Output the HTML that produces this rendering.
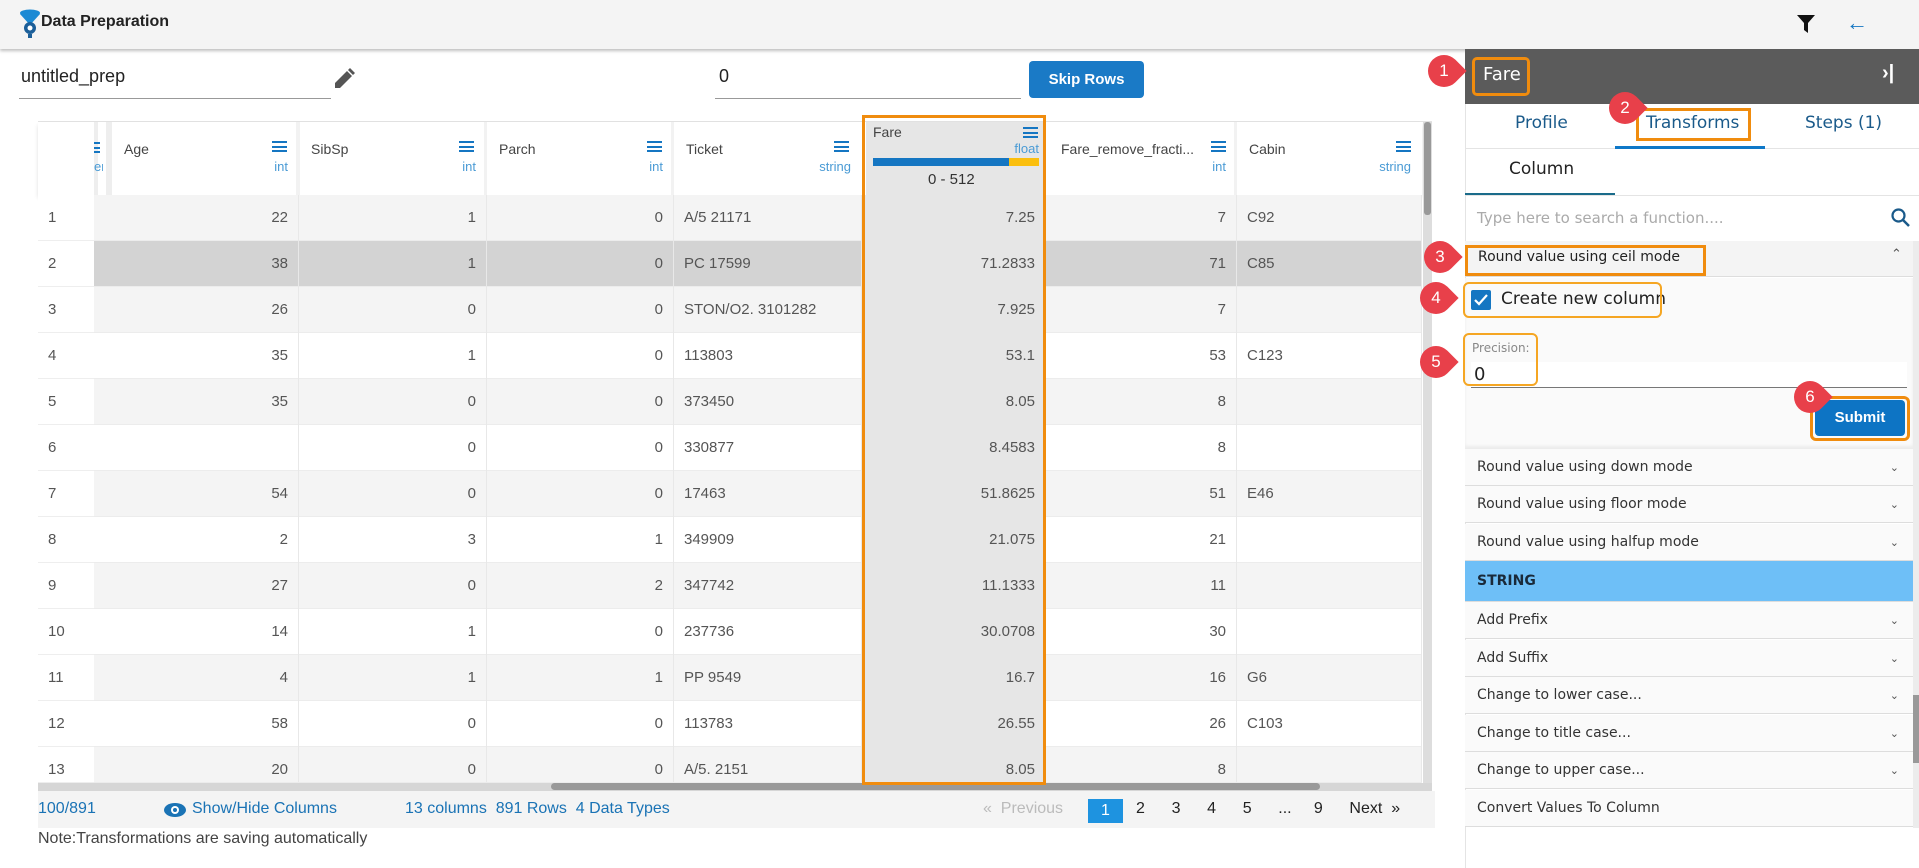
<!DOCTYPE html>
<html><head><meta charset="utf-8"><style>
*{margin:0;padding:0;box-sizing:border-box}
body{width:1919px;height:868px;position:relative;overflow:hidden;background:#fff;font-family:"Liberation Sans",sans-serif;color:#444}
.a{position:absolute}
.row{position:absolute;left:94px;width:1328px;height:46px;border-bottom:1px solid #ececec}
.row span{position:absolute;top:0;height:46px;line-height:46px;font-size:15px;color:#555;border-right:1px solid #e8e8e8}
.r{text-align:right;padding-right:10px}
.l{padding-left:10px}
.idx{position:absolute;left:38px;width:56px;height:46px;line-height:46px;padding-left:10px;font-size:15px;color:#555;background:#fff;border-bottom:1px solid #eee}
.hn{position:absolute;top:141px;font-size:14px;color:#444}
.ht{position:absolute;top:159px;font-size:13px;color:#4a9bd5;text-align:right}
.menu{position:absolute;width:15px;height:11px;border-top:2px solid #1576c2;border-bottom:2px solid #1576c2}
.menu:after{content:"";position:absolute;left:0;right:0;top:2.5px;height:2px;background:#1576c2}
.pi{position:absolute;left:1465px;width:448px;height:37px;border-bottom:1px solid #ddd;background:#fafafa;font-size:15px;color:#333;line-height:37px;padding-left:12px;font-family:"DejaVu Sans",sans-serif;font-size:14px}
.pi i{position:absolute;right:14px;top:0;font-style:normal;font-size:11px;color:#555}
.mk{position:absolute;width:32px;height:32px;border-radius:50% 50% 50% 0;background:#e8404a;transform:rotate(-135deg)}
.mk b{position:absolute;left:0;top:0;width:32px;height:32px;line-height:32px;text-align:center;color:#fff;font-size:17px;font-weight:normal;transform:rotate(135deg)}
.ob{position:absolute;border:3px solid #f08c0e;border-radius:3px}
.ft{position:absolute;top:800px;font-size:16px;color:#1a73b5}
</style></head><body>
<!-- header -->
<div class="a" style="left:0;top:0;width:1919px;height:49px;background:#f4f4f4;box-shadow:0 2px 3px rgba(0,0,0,.25)"></div>
<svg class="a" style="left:19px;top:9px" width="22" height="30" viewBox="0 0 22 30"><ellipse cx="11" cy="4" rx="10" ry="3.5" fill="#1c8ad4"/><path d="M1 5 L11 16 L21 5Z" fill="#1c8ad4"/><circle cx="11" cy="19" r="6" fill="#1c5f99"/><circle cx="11" cy="19" r="2.5" fill="#fff"/><rect x="9" y="25" width="4" height="4" fill="#1c5f99"/></svg>
<div class="a" style="left:41px;top:13px;font-size:16px;font-weight:bold;color:#222">Data Preparation</div>
<svg class="a" style="left:1797px;top:15px" width="18" height="18" viewBox="0 0 18 18"><path d="M0 0H18L11 8V18L7 15V8Z" fill="#111"/></svg>
<div class="a" style="left:1846px;top:10px;font-size:22px;color:#1576c2">←</div>
<!-- inputs -->
<div class="a" style="left:21px;top:66px;font-size:18px;color:#222">untitled_prep</div>
<div class="a" style="left:19px;top:98px;width:312px;height:1px;background:#999"></div>
<svg class="a" style="left:335px;top:68px" width="20" height="20" viewBox="0 0 20 20"><path d="M0 20V15L12 3L17 8L5 20Z M13 2L15 0L20 5L18 7Z" fill="#555"/></svg>
<div class="a" style="left:719px;top:66px;font-size:18px;color:#222">0</div>
<div class="a" style="left:715px;top:98px;width:306px;height:1px;background:#999"></div>
<div class="a" style="left:1029px;top:61px;width:115px;height:37px;background:#1a7ac6;border-radius:4px;color:#fff;font-size:15px;font-weight:bold;text-align:center;line-height:37px">Skip Rows</div>
<!-- table -->
<div class="a" style="left:38px;top:121px;width:1394px;height:670px;border:1px solid #e2e2e2"></div>
<div class="a" style="left:38px;top:122px;width:1384px;height:73px;background:#fff;box-shadow:0 3px 4px rgba(0,0,0,.12)"></div>
<div class="a" style="left:94px;top:122px;width:4px;height:73px;background:#eee"></div>
<div class="a" style="left:106px;top:122px;width:6px;height:73px;background:#eee"></div>
<div class="menu" style="left:94px;top:142px;width:6px"></div>
<div class="ht" style="left:94px;width:9px;overflow:hidden">er</div>
<div class="a" style="left:296px;top:122px;width:4px;height:73px;background:#f2f2f2"></div>
<div class="a" style="left:484px;top:122px;width:3px;height:73px;background:#f2f2f2"></div>
<div class="a" style="left:671px;top:122px;width:3px;height:73px;background:#f2f2f2"></div>
<div class="a" style="left:1234px;top:122px;width:3px;height:73px;background:#f2f2f2"></div>
<div class="hn" style="left:124px">Age</div><div class="menu" style="left:272px;top:141px"></div><div class="ht" style="left:240px;width:48px">int</div>
<div class="hn" style="left:311px">SibSp</div><div class="menu" style="left:459px;top:141px"></div><div class="ht" style="left:428px;width:48px">int</div>
<div class="hn" style="left:499px">Parch</div><div class="menu" style="left:647px;top:141px"></div><div class="ht" style="left:615px;width:48px">int</div>
<div class="hn" style="left:686px">Ticket</div><div class="menu" style="left:834px;top:141px"></div><div class="ht" style="left:790px;width:61px">string</div>
<div class="a" style="left:866px;top:122px;width:177px;height:73px;background:#e6e6e6"></div>
<div class="hn" style="left:873px;top:124px">Fare</div><div class="menu" style="left:1023px;top:127px"></div><div class="ht" style="left:980px;width:59px;top:141px">float</div>
<div class="a" style="left:873px;top:158px;width:136px;height:8px;background:#1576c2"></div><div class="a" style="left:1009px;top:158px;width:30px;height:8px;background:#fbbf0e"></div>
<div class="a" style="left:928px;top:171px;font-size:15px;color:#333">0 - 512</div>
<div class="hn" style="left:1061px">Fare_remove_fracti...</div><div class="menu" style="left:1211px;top:141px"></div><div class="ht" style="left:1170px;width:56px">int</div>
<div class="hn" style="left:1249px">Cabin</div><div class="menu" style="left:1396px;top:141px"></div><div class="ht" style="left:1340px;width:71px">string</div>

<div class="row" style="top:195px;background:#f4f4f4"><span class="r" style="left:18px;width:187px">22</span><span class="r" style="left:205px;width:188px">1</span><span class="r" style="left:393px;width:187px">0</span><span class="l" style="left:580px;width:188px">A/5 21171</span><span class="r" style="left:768px;width:184px;background:#e6e6e6">7.25</span><span class="r" style="left:952px;width:191px">7</span><span class="l" style="left:1143px;width:185px">C92</span></div>
<div class="row" style="top:241px;background:#d3d3d3"><span class="r" style="left:18px;width:187px">38</span><span class="r" style="left:205px;width:188px">1</span><span class="r" style="left:393px;width:187px">0</span><span class="l" style="left:580px;width:188px">PC 17599</span><span class="r" style="left:768px;width:184px;background:#e6e6e6">71.2833</span><span class="r" style="left:952px;width:191px">71</span><span class="l" style="left:1143px;width:185px">C85</span></div>
<div class="row" style="top:287px;background:#f4f4f4"><span class="r" style="left:18px;width:187px">26</span><span class="r" style="left:205px;width:188px">0</span><span class="r" style="left:393px;width:187px">0</span><span class="l" style="left:580px;width:188px">STON/O2. 3101282</span><span class="r" style="left:768px;width:184px;background:#e6e6e6">7.925</span><span class="r" style="left:952px;width:191px">7</span><span class="l" style="left:1143px;width:185px"></span></div>
<div class="row" style="top:333px;background:#fff"><span class="r" style="left:18px;width:187px">35</span><span class="r" style="left:205px;width:188px">1</span><span class="r" style="left:393px;width:187px">0</span><span class="l" style="left:580px;width:188px">113803</span><span class="r" style="left:768px;width:184px;background:#e6e6e6">53.1</span><span class="r" style="left:952px;width:191px">53</span><span class="l" style="left:1143px;width:185px">C123</span></div>
<div class="row" style="top:379px;background:#f4f4f4"><span class="r" style="left:18px;width:187px">35</span><span class="r" style="left:205px;width:188px">0</span><span class="r" style="left:393px;width:187px">0</span><span class="l" style="left:580px;width:188px">373450</span><span class="r" style="left:768px;width:184px;background:#e6e6e6">8.05</span><span class="r" style="left:952px;width:191px">8</span><span class="l" style="left:1143px;width:185px"></span></div>
<div class="row" style="top:425px;background:#fff"><span class="r" style="left:18px;width:187px"></span><span class="r" style="left:205px;width:188px">0</span><span class="r" style="left:393px;width:187px">0</span><span class="l" style="left:580px;width:188px">330877</span><span class="r" style="left:768px;width:184px;background:#e6e6e6">8.4583</span><span class="r" style="left:952px;width:191px">8</span><span class="l" style="left:1143px;width:185px"></span></div>
<div class="row" style="top:471px;background:#f4f4f4"><span class="r" style="left:18px;width:187px">54</span><span class="r" style="left:205px;width:188px">0</span><span class="r" style="left:393px;width:187px">0</span><span class="l" style="left:580px;width:188px">17463</span><span class="r" style="left:768px;width:184px;background:#e6e6e6">51.8625</span><span class="r" style="left:952px;width:191px">51</span><span class="l" style="left:1143px;width:185px">E46</span></div>
<div class="row" style="top:517px;background:#fff"><span class="r" style="left:18px;width:187px">2</span><span class="r" style="left:205px;width:188px">3</span><span class="r" style="left:393px;width:187px">1</span><span class="l" style="left:580px;width:188px">349909</span><span class="r" style="left:768px;width:184px;background:#e6e6e6">21.075</span><span class="r" style="left:952px;width:191px">21</span><span class="l" style="left:1143px;width:185px"></span></div>
<div class="row" style="top:563px;background:#f4f4f4"><span class="r" style="left:18px;width:187px">27</span><span class="r" style="left:205px;width:188px">0</span><span class="r" style="left:393px;width:187px">2</span><span class="l" style="left:580px;width:188px">347742</span><span class="r" style="left:768px;width:184px;background:#e6e6e6">11.1333</span><span class="r" style="left:952px;width:191px">11</span><span class="l" style="left:1143px;width:185px"></span></div>
<div class="row" style="top:609px;background:#fff"><span class="r" style="left:18px;width:187px">14</span><span class="r" style="left:205px;width:188px">1</span><span class="r" style="left:393px;width:187px">0</span><span class="l" style="left:580px;width:188px">237736</span><span class="r" style="left:768px;width:184px;background:#e6e6e6">30.0708</span><span class="r" style="left:952px;width:191px">30</span><span class="l" style="left:1143px;width:185px"></span></div>
<div class="row" style="top:655px;background:#f4f4f4"><span class="r" style="left:18px;width:187px">4</span><span class="r" style="left:205px;width:188px">1</span><span class="r" style="left:393px;width:187px">1</span><span class="l" style="left:580px;width:188px">PP 9549</span><span class="r" style="left:768px;width:184px;background:#e6e6e6">16.7</span><span class="r" style="left:952px;width:191px">16</span><span class="l" style="left:1143px;width:185px">G6</span></div>
<div class="row" style="top:701px;background:#fff"><span class="r" style="left:18px;width:187px">58</span><span class="r" style="left:205px;width:188px">0</span><span class="r" style="left:393px;width:187px">0</span><span class="l" style="left:580px;width:188px">113783</span><span class="r" style="left:768px;width:184px;background:#e6e6e6">26.55</span><span class="r" style="left:952px;width:191px">26</span><span class="l" style="left:1143px;width:185px">C103</span></div>
<div class="row" style="top:747px;height:36px;background:#f4f4f4;overflow:hidden"><span class="r" style="left:18px;width:187px">20</span><span class="r" style="left:205px;width:188px">0</span><span class="r" style="left:393px;width:187px">0</span><span class="l" style="left:580px;width:188px">A/5. 2151</span><span class="r" style="left:768px;width:184px;background:#e6e6e6">8.05</span><span class="r" style="left:952px;width:191px">8</span><span class="l" style="left:1143px;width:185px"></span></div>
<div class="idx" style="top:195px">1</div><div class="idx" style="top:241px">2</div><div class="idx" style="top:287px">3</div><div class="idx" style="top:333px">4</div><div class="idx" style="top:379px">5</div><div class="idx" style="top:425px">6</div><div class="idx" style="top:471px">7</div><div class="idx" style="top:517px">8</div><div class="idx" style="top:563px">9</div><div class="idx" style="top:609px">10</div><div class="idx" style="top:655px">11</div><div class="idx" style="top:701px">12</div><div class="idx" style="top:747px;height:36px;line-height:46px;overflow:hidden">13</div>
<!-- scrollbars -->
<div class="a" style="left:1423px;top:122px;width:9px;height:661px;background:#ddd"></div>
<div class="a" style="left:1424px;top:122px;width:7px;height:93px;background:#999;border-radius:3px"></div>
<div class="a" style="left:38px;top:783px;width:1394px;height:8px;background:#d6d6d6"></div>
<div class="a" style="left:551px;top:783px;width:769px;height:7px;background:#999;border-radius:4px"></div>
<!-- Fare highlight -->
<div class="ob" style="left:862px;top:115px;width:184px;height:670px;border-radius:0"></div>
<!-- footer -->
<div class="a" style="left:38px;top:791px;width:1397px;height:37px;background:#f4f4f4"></div>
<div class="ft" style="left:38px">100/891</div>
<svg class="a" style="left:164px;top:803px" width="22" height="14" viewBox="0 0 22 14"><ellipse cx="11" cy="7" rx="11" ry="7" fill="#1a73b5"/><circle cx="11" cy="7" r="4" fill="#fff"/><circle cx="11" cy="7" r="2" fill="#1a73b5"/></svg>
<div class="ft" style="left:192px">Show/Hide Columns</div>
<div class="ft" style="left:405px">13 columns&nbsp; 891 Rows&nbsp; 4 Data Types</div>
<div class="ft" style="left:983px;color:#bbb">«&nbsp; Previous</div>
<div class="a" style="left:1088px;top:799px;width:35px;height:24px;background:#1e93e0;color:#fff;font-size:16px;text-align:center;line-height:24px">1</div>
<div class="ft" style="left:1136px;color:#222;word-spacing:0">2&nbsp;&nbsp;&nbsp;&nbsp;&nbsp; 3&nbsp;&nbsp;&nbsp;&nbsp;&nbsp; 4&nbsp;&nbsp;&nbsp;&nbsp;&nbsp; 5&nbsp;&nbsp;&nbsp;&nbsp;&nbsp; ...&nbsp;&nbsp;&nbsp;&nbsp; 9&nbsp;&nbsp;&nbsp;&nbsp;&nbsp; Next&nbsp; »</div>
<div class="a" style="left:38px;top:830px;font-size:16px;color:#444">Note:Transformations are saving automatically</div>
<!-- right panel -->
<div class="a" style="left:1465px;top:49px;width:454px;height:819px;background:#fff;border-left:1px solid #e4e4e4"></div>
<div class="a" style="left:1465px;top:49px;width:454px;height:55px;background:#5b5b5b"></div>
<div class="a" style="left:1483px;top:64px;font-size:18px;color:#fff;font-family:'DejaVu Sans',sans-serif">Fare</div>
<div class="a" style="left:1882px;top:62px;font-size:20px;color:#fff;font-weight:bold">›|</div>
<div class="a" style="left:1465px;top:148px;width:454px;height:1px;background:#e4e4e4"></div>
<div class="a" style="left:1515px;top:113px;font-size:17px;color:#1a5a8a;font-family:'DejaVu Sans',sans-serif">Profile</div>
<div class="a" style="left:1646px;top:113px;font-size:17px;color:#1a5a8a;font-family:'DejaVu Sans',sans-serif">Transforms</div>
<div class="a" style="left:1805px;top:113px;font-size:17px;color:#1a5a8a;font-family:'DejaVu Sans',sans-serif">Steps (1)</div>
<div class="a" style="left:1615px;top:146px;width:150px;height:3px;background:#0e78c8"></div>
<div class="a" style="left:1509px;top:159px;font-size:17px;color:#222;font-family:'DejaVu Sans',sans-serif">Column</div>
<div class="a" style="left:1465px;top:193px;width:150px;height:2px;background:#1a6b8a"></div>
<div class="a" style="left:1465px;top:195px;width:454px;height:1px;background:#e4e4e4"></div>
<div class="a" style="left:1477px;top:209px;font-size:15px;color:#aaa;font-family:'DejaVu Sans',sans-serif">Type here to search a function....</div>
<svg class="a" style="left:1891px;top:208px" width="19" height="19" viewBox="0 0 19 19"><circle cx="7.5" cy="7.5" r="6" fill="none" stroke="#1a5a8a" stroke-width="2.2"/><path d="M12 12L18 18" stroke="#1a5a8a" stroke-width="2.5"/></svg>
<div class="a" style="left:1465px;top:241px;width:448px;height:36px;background:#f4f4f4;border-bottom:1px solid #ddd"></div>
<div class="a" style="left:1478px;top:249px;font-size:14px;color:#222;font-family:'DejaVu Sans',sans-serif">Round value using ceil mode</div>
<div class="a" style="left:1891px;top:246px;font-size:13px;color:#555">⌃</div>
<div class="a" style="left:1465px;top:278px;width:448px;height:171px;background:#fafafa;box-shadow:inset 0 -3px 3px rgba(0,0,0,.06)"></div>
<div class="a" style="left:1471px;top:290px;width:20px;height:20px;background:#1576c2;border-radius:2px"></div>
<svg class="a" style="left:1473px;top:292px" width="16" height="16" viewBox="0 0 16 16"><path d="M2 8L6 12L14 3" stroke="#fff" stroke-width="2.2" fill="none"/></svg>
<div class="a" style="left:1501px;top:289px;font-size:17px;color:#222;font-family:'DejaVu Sans',sans-serif">Create new column</div>
<div class="a" style="left:1472px;top:341px;font-size:12px;color:#888;font-family:'DejaVu Sans',sans-serif">Precision:</div>
<div class="a" style="left:1471px;top:362px;width:436px;height:26px;background:#fff;border-bottom:1px solid #777"></div>
<div class="a" style="left:1474px;top:364px;font-size:18px;color:#222;font-family:'DejaVu Sans',sans-serif">0</div>
<div class="a" style="left:1815px;top:400px;width:90px;height:36px;background:#0d74c4;border-radius:4px;color:#fff;font-size:15px;font-weight:bold;text-align:center;line-height:36px">Submit</div>
<div class="pi" style="top:449px">Round value using down mode<i>⌄</i></div>
<div class="pi" style="top:486px">Round value using floor mode<i>⌄</i></div>
<div class="pi" style="top:524px">Round value using halfup mode<i>⌄</i></div>
<div class="pi" style="top:561px;height:41px;line-height:41px;background:#6ebff7;font-weight:bold;font-size:14px;color:#1a2a3a">STRING</div>
<div class="pi" style="top:602px">Add Prefix<i>⌄</i></div>
<div class="pi" style="top:640px">Add Suffix<i>⌄</i></div>
<div class="pi" style="top:677px">Change to lower case...<i>⌄</i></div>
<div class="pi" style="top:715px">Change to title case...<i>⌄</i></div>
<div class="pi" style="top:752px">Change to upper case...<i>⌄</i></div>
<div class="pi" style="top:790px">Convert Values To Column</div>
<div class="a" style="left:1913px;top:241px;width:6px;height:587px;background:#ececec"></div>
<div class="a" style="left:1913px;top:695px;width:6px;height:68px;background:#999"></div>
<!-- annotation boxes -->
<div class="ob" style="left:1472px;top:57px;width:58px;height:39px;border-radius:5px"></div>
<div class="ob" style="left:1636px;top:108px;width:115px;height:33px;border-radius:0"></div>
<div class="ob" style="left:1465px;top:245px;width:241px;height:31px;border-radius:0"></div>
<div class="ob" style="left:1463px;top:282px;width:199px;height:36px;border-width:2px;border-color:#f5a623;border-radius:6px"></div>
<div class="ob" style="left:1463px;top:333px;width:75px;height:53px;border-width:2px;border-color:#f5a623;border-radius:6px"></div>
<div class="ob" style="left:1810px;top:396px;width:100px;height:45px;border-radius:6px"></div>
<!-- markers -->
<div class="mk" style="left:1428px;top:55px"><b>1</b></div>
<div class="mk" style="left:1609px;top:92px"><b>2</b></div>
<div class="mk" style="left:1424px;top:241px"><b>3</b></div>
<div class="mk" style="left:1420px;top:282px"><b>4</b></div>
<div class="mk" style="left:1420px;top:346px"><b>5</b></div>
<div class="mk" style="left:1794px;top:381px"><b>6</b></div>
</body></html>
